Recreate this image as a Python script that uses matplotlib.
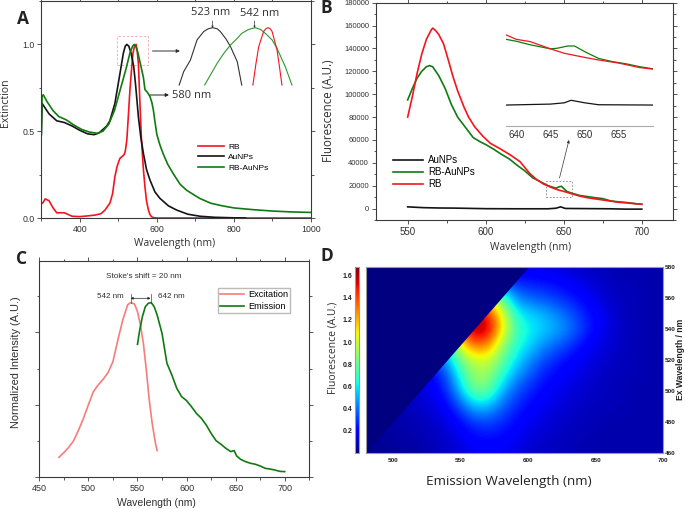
import numpy as np
import matplotlib
matplotlib.use("Agg")
import matplotlib.pyplot as plt
from matplotlib.patches import Rectangle
from matplotlib.ticker import MultipleLocator, NullFormatter

W, H = 685, 509
SANS = ["Liberation Sans", "DejaVu Sans"]
HUM = ["Open Sans", "DejaVu Sans"]
plt.rcParams["font.family"] = SANS

# ---------- Panel A ----------
a_rb_x = [300,305,310,320,330,340,350,360,370,380,400,420,440,455,465,478,485,491,497,504,510,515,518,522,526,530,534,538,542,546,549,552,556,560,565,569,573,578,582,586,592,600,1000]
a_rb_y = [.08,.09,.11,.10,.06,.03,.03,.03,.02,.01,.008,.012,.017,.025,.045,.085,.14,.238,.30,.343,.355,.365,.385,.45,.59,.737,.85,.95,.99,1.0,.96,.89,.66,.449,.28,.18,.10,.046,.02,.007,.002,0,0]
a_au_x = [300,302,305,320,340,360,380,400,420,437,450,460,470,478,491,504,513,518,522,527,533,540,545,552,558,565,573,582,595,608,630,651,680,712,750,800,830]
a_au_y = [.48,.66,.65,.60,.56,.55,.53,.505,.485,.48,.49,.51,.53,.56,.66,.83,.95,.99,1.0,.99,.95,.87,.76,.583,.47,.372,.28,.219,.15,.113,.07,.046,.022,.01,.004,.001,0]
a_mix_x = [300,302,305,315,330,345,365,385,405,425,445,460,475,490,500,510,520,530,537,541,546,551,557,565,569,575,582,587,591,595,600,608,616,628,642,660,677,711,740,770,800,850,900,950,1000]
a_mix_y = [.48,.70,.71,.67,.62,.585,.565,.535,.51,.495,.488,.50,.54,.62,.70,.78,.86,.95,.99,1.0,.985,.95,.89,.81,.74,.725,.70,.665,.62,.555,.48,.42,.372,.31,.257,.195,.16,.113,.085,.07,.058,.048,.04,.035,.032]
ins_au_x = [508,510,513,516,519,521,523,525,526.4,529,531,534,536]
ins_au_y = [.85,.885,.915,.968,.99,.997,1,.997,.99,.97,.95,.911,.85]
ins_mix_x = [519.4,525,528,531,534,536,539,542,544.5,546.6,549.6,551.8,555.5,558.5]
ins_mix_y = [.85,.907,.933,.955,.972,.985,.995,1.0,.995,.985,.968,.946,.898,.85]
ins_rb_x = [541,542.4,543.6,545.8,546.8,547.8,548.8,549.6,551.8,552.9,554]
ins_rb_y = [.85,.907,.95,.99,.997,1,.997,.99,.942,.898,.85]

# ---------- Panel B ----------
b_rb_x = [550,553,556,559,562,565,566,568,570,573,576,579,582,586,589,593,598,603,609,616,622,628,632,637,642,646,650,655,660,665,670,675,680,685,690,695,700]
b_rb_y = [80000,98000,118000,135000,148000,156000,157800,155500,152000,144000,130000,115500,103000,89000,80000,71400,63500,57000,52500,46700,41000,31000,26000,21500,18500,16500,15000,13000,11000,9500,8500,7500,6500,5500,5000,4300,3800]
b_mix_x = [550,553,556,559,562,564,566,570,574,578,582,587,592,597,600,605,610,615,620,625,630,635,640,645,647,648.5,650,652,655,660,665,670,675,680,685,690,695,700]
b_mix_y = [95000,105000,114000,120000,124000,125000,124000,116000,105000,91000,80000,71000,62000,58000,56000,52000,47500,43500,38000,33000,27000,23500,20000,17800,19000,19500,17500,15000,13500,11500,10500,9500,8700,6700,5900,5300,4500,3700]
b_au_x = [550,560,570,580,600,620,640,645,648,651,660,680,690,700]
b_au_y = [1500,800,500,400,-100,-200,-200,300,1500,100,0,-200,-500,-500]
bi_rb_x = [638.5,640,642,645,647,650,652,655,658,660]
bi_rb_y = [22100,20700,20000,17700,16300,15000,14200,13200,11800,11300]
bi_mix_x = [638.5,640,642,645,646,647.5,648.5,650,652,654,656,658,660]
bi_mix_y = [20700,20100,19000,17700,17900,18600,18600,16800,14700,13700,13000,12100,11400]
bi_au_x = [638.5,645,647,648,650,652,660]
bi_au_y = [0,300,700,1500,700,100,0]

# ---------- Panel C ----------
c_ex_x = [470,475,480,485,490,495,500,505,510,515,520,525,530,535,540,543,547,550,553,556,559,562,565,568,570]
c_ex_y = [.138,.17,.207,.253,.326,.407,.5,.59,.637,.676,.722,.798,.947,1.085,1.19,1.205,1.195,1.143,1.05,.924,.74,.533,.372,.246,.184]
c_em_x = [550,552,555,558,561,564,567,570,575,580,585,590,595,600,605,610,615,620,625,630,635,640,645,647,648.5,651,655,660,665,670,675,680,685,690,695,700]
c_em_y = [.917,1.005,1.108,1.177,1.2,1.205,1.177,1.12,.993,.786,.706,.614,.556,.529,.487,.441,.407,.361,.303,.253,.228,.2,.177,.182,.184,.147,.124,.108,.097,.09,.078,.062,.057,.05,.041,.039]

# ---------- Panel D ----------
d_em = [480,490,500,510,520,530,540,550,560,570,580,590,600,610,620,630,640,650,660,670,680,690,700]
d_ex = [460,470,480,490,500,510,520,530,540,550,560,570,580]
d_r460 = [.03,.03,.04,.05,.06,.08,.10,.13,.17,.18,.17,.15,.12,.10,.09,.08,.07,.07,.07,.07,.07,.07,.07]
d_r470 = [.03,.04,.05,.06,.07,.09,.12,.16,.21,.23,.21,.18,.14,.12,.10,.09,.08,.07,.07,.07,.07,.07,.07]
d_r480 = [.04,.05,.06,.07,.09,.11,.15,.22,.30,.32,.28,.22,.17,.14,.12,.10,.09,.08,.07,.07,.07,.07,.07]
d_r490 = [.05,.06,.07,.09,.11,.14,.20,.34,.52,.52,.38,.28,.21,.17,.14,.12,.10,.09,.08,.08,.07,.07,.07]
d_r500 = [.06,.07,.09,.11,.13,.18,.28,.54,.80,.78,.52,.36,.27,.21,.17,.14,.12,.10,.09,.08,.07,.07,.07]
d_r510 = [.07,.08,.10,.12,.15,.22,.34,.66,.90,.90,.68,.48,.36,.26,.21,.17,.14,.11,.09,.08,.08,.07,.07]
d_r520 = [.10,.12,.14,.17,.22,.30,.50,.80,.98,1.0,.80,.60,.46,.34,.27,.21,.17,.13,.11,.09,.08,.07,.07]
d_r530 = [.12,.14,.18,.24,.30,.40,.60,1.10,1.35,1.30,.92,.68,.58,.46,.38,.30,.22,.16,.12,.10,.08,.07,.07]
d_r540 = [.16,.20,.24,.30,.36,.50,.80,1.35,1.67,1.60,1.15,.74,.62,.56,.50,.42,.30,.21,.14,.10,.08,.07,.07]
d_r550 = [.16,.20,.24,.30,.36,.50,.80,1.20,1.55,1.50,1.08,.66,.56,.52,.44,.36,.27,.20,.14,.09,.08,.07,.07]
d_r560 = [.10,.12,.14,.18,.22,.30,.40,.70,1.0,1.0,.80,.45,.38,.34,.30,.26,.21,.15,.11,.09,.08,.07,.07]
d_r570 = [.06,.07,.08,.10,.12,.14,.18,.24,.30,.32,.30,.28,.25,.24,.22,.18,.15,.12,.10,.08,.08,.07,.07]
d_r580 = [.05,.05,.06,.06,.07,.08,.09,.10,.12,.14,.15,.15,.15,.15,.14,.12,.10,.09,.08,.07,.07,.07,.07]
d_cbar_ticks = [.2,.4,.6,.8,1.0,1.2,1.4,1.6]

RED, BLACK, GREEN = "#f5141e", "#141414", "#107a10"
SPINE = "#3a3a3a"
TXT = "#303030"


def axpx(l, t, r, b, **kw):
    return fig.add_axes([l / W, 1 - b / H, (r - l) / W, (b - t) / H], **kw)


def ftxt(x, y, s, size=7, ha="center", va="center", **kw):
    kw.setdefault("color", TXT)
    return fig.text(x / W, 1 - y / H, s, fontsize=size, ha=ha, va=va, **kw)


def farrow(x0, y0, x1, y1, color="#333333", style="-|>", lw=.7, ms=5):
    fig.add_artist(matplotlib.patches.FancyArrowPatch(
        (x0 / W, 1 - y0 / H), (x1 / W, 1 - y1 / H), transform=fig.transFigure,
        arrowstyle=style, mutation_scale=ms, lw=lw, color=color, shrinkA=0, shrinkB=0))


def style(ax, lsize=6.3):
    for s in ax.spines.values():
        s.set_color(SPINE)
        s.set_linewidth(.8)
    ax.tick_params(which="both", top=True, right=True, color=SPINE, width=.6,
                   labelsize=lsize, labelcolor=TXT, pad=2)
    ax.tick_params(which="major", length=3)
    ax.tick_params(which="minor", length=1.8)


fig = plt.figure(figsize=(W / 100, H / 100), dpi=100, facecolor="white")

# A
ax = axpx(41.3, 1, 311, 218)
ax.plot(a_rb_x, a_rb_y, color=RED, lw=1.2, label="RB")
ax.plot(a_au_x, a_au_y, color=BLACK, lw=1.2, label="AuNPs")
ax.plot(a_mix_x, a_mix_y, color=GREEN, lw=1.2, label="RB-AuNPs")
ax.set_xlim(300, 1000)
ax.set_ylim(0, 1.25)
ax.xaxis.set_major_locator(MultipleLocator(200))
ax.xaxis.set_minor_locator(MultipleLocator(100))
ax.set_yticks([0, .5, 1])
ax.set_yticklabels(["0.0", "0.5", "1.0"])
ax.yaxis.set_minor_locator(MultipleLocator(.25))
style(ax)
ax.legend(loc="upper left", bbox_to_anchor=(157 / 269.7, 0.345), frameon=False, fontsize=6,
          handlelength=3.1, handletextpad=.5, labelspacing=.3, borderpad=0, borderaxespad=0)
ax.add_patch(Rectangle((497, .88), 79, .17, fill=False, ec="#f0a8a8", lw=.6, ls=(0, (3, 2))))
ai = axpx(166.7, 20, 300, 90)
ai.plot(ins_au_x, ins_au_y, color="#333333", lw=.8)
ai.plot(ins_mix_x, ins_mix_y, color="#2a9a2a", lw=.8)
ai.plot(ins_rb_x, ins_rb_y, color=RED, lw=.8)
ai.set_xlim(502.4, 562.1)
ai.set_ylim(.837, 1.02)
ai.axis("off")
ftxt(211, 12.5, "523 nm", 8, family=HUM)
ftxt(259.5, 13.5, "542 nm", 8, family=HUM)
ftxt(191.5, 95.5, "580 nm", 8, family=HUM)
farrow(212.5, 21, 212.5, 28, ms=2.5, lw=.5)
farrow(254.5, 21, 254.5, 28, ms=2.5, lw=.5)
farrow(152.5, 51, 180, 51)
farrow(150, 95, 169, 95, color="#222222")
ftxt(23, 19, "A", 12.5, family=HUM, weight="bold", color="#222222")
ftxt(5.5, 103, "Extinction", 7.6, rotation=90, family=HUM)
ftxt(174.5, 244, "Wavelength (nm)", 7.4, family=HUM)

# B
bx = axpx(376, 2.7, 673, 220)
bx.plot(b_au_x, b_au_y, color=BLACK, lw=1.2, label="AuNPs")
bx.plot(b_mix_x, b_mix_y, color=GREEN, lw=1.2, label="RB-AuNPs")
bx.plot(b_rb_x, b_rb_y, color=RED, lw=1.2, label="RB")
bx.set_xlim(529.7, 720)
bx.set_ylim(-10000, 180000)
bx.xaxis.set_major_locator(MultipleLocator(50))
bx.xaxis.set_minor_locator(MultipleLocator(25))
bx.yaxis.set_major_locator(MultipleLocator(20000))
bx.yaxis.set_minor_locator(MultipleLocator(10000))
style(bx, 5.4)
bx.tick_params(axis="x", labelsize=7)
bx.legend(loc="upper left", bbox_to_anchor=(.057, .299), frameon=False, fontsize=7,
          handlelength=3.1, handletextpad=.5, labelspacing=.2, borderpad=0, borderaxespad=0)
bx.add_patch(Rectangle((638.7, 10500), 16.8, 14000, fill=False, ec="#888888", lw=.6, ls=(0, (2, 2))))
bi = axpx(506, 33.3, 653.3, 126)
bi.plot(bi_au_x, bi_au_y, color=BLACK, lw=.9)
bi.plot(bi_mix_x, bi_mix_y, color=GREEN, lw=.9)
bi.plot(bi_rb_x, bi_rb_y, color=RED, lw=.9)
bi.set_xlim(638.5, 660)
bi.set_ylim(-6600, 22600)
bi.patch.set_alpha(0)
for k in ("top", "left", "right"):
    bi.spines[k].set_visible(False)
bi.spines["bottom"].set_color("#aaaaaa")
bi.set_yticks([])
bi.set_xticks([640, 645, 650, 655])
bi.tick_params(axis="x", length=0, labelsize=7, labelcolor=TXT, pad=3)
farrow(559.5, 178, 569, 140, ms=4, lw=.5)
ftxt(326.5, 8, "B", 12.5, family=HUM, weight="bold", color="#222222")
ftxt(328, 111, "Fluorescence (A.U.)", 8.3, rotation=90, family=HUM)
ftxt(530.5, 247, "Wavelength (nm)", 7.4, family=HUM)

# C
cx = axpx(39.3, 260.7, 309.3, 477.3)
cx.plot(c_ex_x, c_ex_y, color="#f77c7c", lw=1.2, label="Excitation")
cx.plot(c_em_x, c_em_y, color=GREEN, lw=1.2, label="Emission")
cx.set_xlim(450, 725)
cx.set_ylim(0, 1.494)
cx.xaxis.set_major_locator(MultipleLocator(50))
cx.xaxis.set_minor_locator(MultipleLocator(25))
cx.yaxis.set_major_locator(MultipleLocator(.5))
cx.yaxis.set_minor_locator(MultipleLocator(.25))
cx.yaxis.set_major_formatter(NullFormatter())
style(cx, 6.5)
cx.legend(loc="upper left", bbox_to_anchor=(.662, .873), frameon=True, fancybox=False, edgecolor="#bbbbbb",
          framealpha=1, fontsize=6.6, handlelength=2.6, handletextpad=.4, labelspacing=.25,
          borderpad=.25, borderaxespad=0)
ftxt(144, 276.3, "Stoke's shift = 20 nm", 5.9)
ftxt(110, 296, "542 nm", 5.8)
ftxt(171.5, 296, "642 nm", 5.8)
farrow(130.5, 298.3, 150.5, 298.3, style="<|-|>", ms=3.5, lw=.5, color="#222222")
fig.add_artist(plt.Line2D([130.5 / W] * 2, [1 - 293.5 / H, 1 - 303 / H], color="#444444", lw=.5))
fig.add_artist(plt.Line2D([150.5 / W] * 2, [1 - 293.5 / H, 1 - 303 / H], color="#444444", lw=.5))
ftxt(22, 259, "C", 12.5, family=HUM, weight="bold", color="#222222")
ftxt(16, 362, "Normalized Intensity (A.U.)", 7.9, rotation=90)
ftxt(156.5, 503, "Wavelength (nm)", 7.5)

# D
dx = axpx(366, 267.3, 663.3, 452.7)
grid = np.array([d_r460, d_r470, d_r480, d_r490, d_r500, d_r510, d_r520,
                 d_r530, d_r540, d_r550, d_r560, d_r570, d_r580])
im = dx.imshow(grid, origin="lower", aspect="auto", cmap="jet", vmin=0, vmax=1.676,
               extent=[d_em[0] - 5, d_em[-1] + 5, d_ex[0] - 5, d_ex[-1] + 5],
               interpolation="bicubic")
em = np.array(d_em, float)
dx.fill_between(em, em - 20, d_ex[-1], color=plt.get_cmap("jet")(0.0), lw=0)
dx.set_xlim(480, 700)
dx.set_ylim(460, 580)
dx.xaxis.set_major_locator(MultipleLocator(50))
dx.yaxis.set_major_locator(MultipleLocator(20))
dx.yaxis.tick_right()
dx.tick_params(length=0, labelsize=4.6, pad=1, labelcolor="#222222")
dx.tick_params(axis="x", pad=4)
for t in dx.get_xticklabels() + dx.get_yticklabels():
    t.set_weight("bold")
for s in dx.spines.values():
    s.set_color("#9a9aa5")
    s.set_linewidth(.8)
cax = axpx(355, 267.3, 359.3, 452.7)
cb = fig.colorbar(im, cax=cax)
cax.yaxis.set_ticks_position("left")
cb.set_ticks(d_cbar_ticks)
cb.ax.tick_params(length=0, labelsize=5, pad=2, labelcolor="#222222")
for t in cax.get_yticklabels():
    t.set_weight("bold")
cb.outline.set_edgecolor("#9a9aa5")
cb.outline.set_linewidth(.8)
ftxt(327, 256, "D", 12.5, family=HUM, weight="bold", color="#222222")
ftxt(333, 348, "Fluorescence (A.U.)", 7.5, rotation=90, family=HUM)
ftxt(680.8, 359, "Ex Wavelength / nm", 6.2, rotation=90, weight="bold", color="#222222")
ftxt(509, 481, "Emission Wavelength (nm)", 9.7, family=HUM, color="#222222")

fig.savefig("out.png", dpi=100)
